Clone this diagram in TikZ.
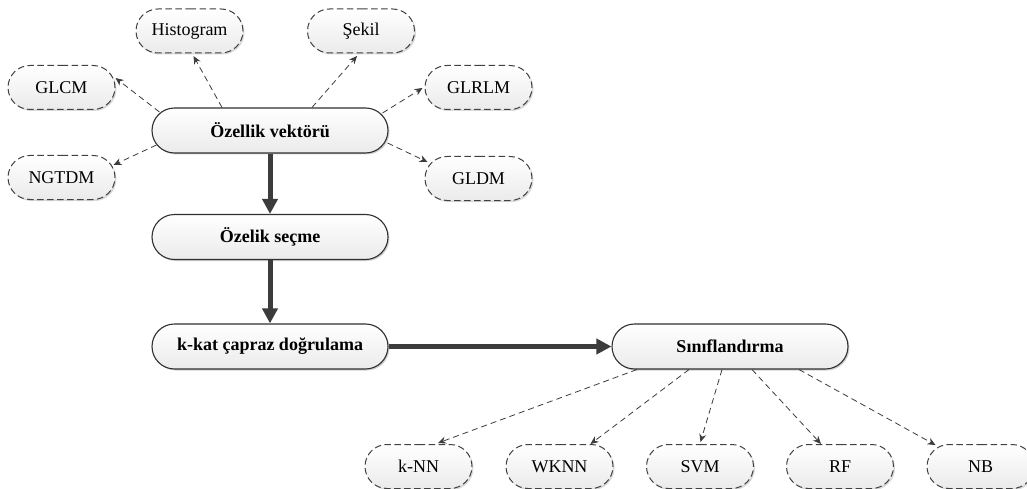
\documentclass[tikz,border=0pt]{standalone}
\usepackage{fontspec}
\setmainfont{Liberation Serif}
\usetikzlibrary{shapes.misc,arrows.meta,calc,shadows}
\definecolor{edge}{HTML}{303030}
\definecolor{dedge}{HTML}{404040}
\definecolor{arr}{HTML}{3C3C3C}
\tikzset{
  mainbox/.style={rounded rectangle, draw=edge, line width=1.1pt,
    top color=white, bottom color=black!8,
    drop shadow={shadow xshift=1.5pt, shadow yshift=-1.5pt, opacity=0.18, fill=black},
    minimum width=236pt, minimum height=45pt, inner sep=0pt,
    font=\rmfamily\fontsize{18}{21}\selectfont\bfseries},
  featbox/.style={rounded rectangle, draw=dedge, line width=1pt, dash pattern=on 6.5pt off 3.5pt,
    top color=white, bottom color=black!8,
    drop shadow={shadow xshift=1.5pt, shadow yshift=-1.5pt, opacity=0.15, fill=black},
    minimum width=107pt, minimum height=44pt, inner sep=0pt,
    font=\rmfamily\fontsize{18}{21}\selectfont},
  thickarrow/.style={draw=arr, fill=arr, line width=5pt, -{Triangle[length=15pt,width=15pt]}},
  dasharrow/.style={draw=arr, line width=0.8pt, dash pattern=on 6pt off 4pt,
    -{Stealth[length=8pt,width=7pt]}},
}
\begin{document}
\begin{tikzpicture}[x=1pt,y=-1pt]
\useasboundingbox[fill=white] (0,0) rectangle (1027,489);
% main nodes
\node[mainbox] (ov) at (270,130.5) {Özellik vektörü};
\node[mainbox] (sec) at (270,237) {Özelik seçme};
\node[mainbox] (kkat) at (270,346.5) {k-kat çapraz doğrulama};
\node[mainbox] (sin) at (730,346.5) {Sınıflandırma};
% feature nodes
\node[featbox] (hist) at (189.5,31) {Histogram};
\node[featbox] (sek) at (361,31) {Şekil};
\node[featbox] (glcm) at (61.5,87.5) {GLCM};
\node[featbox] (ngtdm) at (61.5,177.5) {NGTDM};
\node[featbox] (glrlm) at (478.5,87.5) {GLRLM};
\node[featbox] (gldm) at (478.5,178.5) {GLDM};
% classifier nodes
\node[featbox] (knn) at (418.5,466.5) {k-NN};
\node[featbox] (wknn) at (559.5,466.5) {WKNN};
\node[featbox] (svm) at (700,466.5) {SVM};
\node[featbox] (rf) at (840,466.5) {RF};
\node[featbox] (nb) at (980.5,466.5) {NB};
% thick arrows
\draw[thickarrow] (ov.south) -- (sec.north);
\draw[thickarrow] (sec.south) -- (kkat.north);
\draw[thickarrow] (kkat.east) -- (sin.west);
% feature arrows
\draw[dasharrow] ($(ov.north)+(-48,0)$) -- ($(hist.south)+(4,2.5)$);
\draw[dasharrow] ($(ov.north)+(42,0)$) -- ($(sek.south)+(-4,2.5)$);
\draw[dasharrow] ($(ov.west)+(8,-18.5)$) -- ($(glcm.east)+(0,-9.5)$);
\draw[dasharrow] ($(ov.west)+(5,14.5)$) -- ($(ngtdm.east)+(-2,-12.5)$);
\draw[dasharrow] ($(ov.east)+(-6,-17.5)$) -- ($(glrlm.west)+(-2,0.5)$);
\draw[dasharrow] ($(ov.east)+(-1,12.5)$) -- ($(gldm.west)+(3,-16.5)$);
% classifier arrows
\draw[dasharrow] ($(sin.south)+(-93,0)$) -- ($(knn.north)+(19.5,-1)$);
\draw[dasharrow] ($(sin.south)+(-41,0)$) -- ($(wknn.north)+(31,0)$);
\draw[dasharrow] ($(sin.south)+(-8,0)$) -- ($(svm.north)+(0.5,-2)$);
\draw[dasharrow] ($(sin.south)+(22,0)$) -- ($(rf.north)+(-19,0)$);
\draw[dasharrow] ($(sin.south)+(69,0)$) -- ($(nb.north)+(-45,1)$);
\end{tikzpicture}
\end{document}
